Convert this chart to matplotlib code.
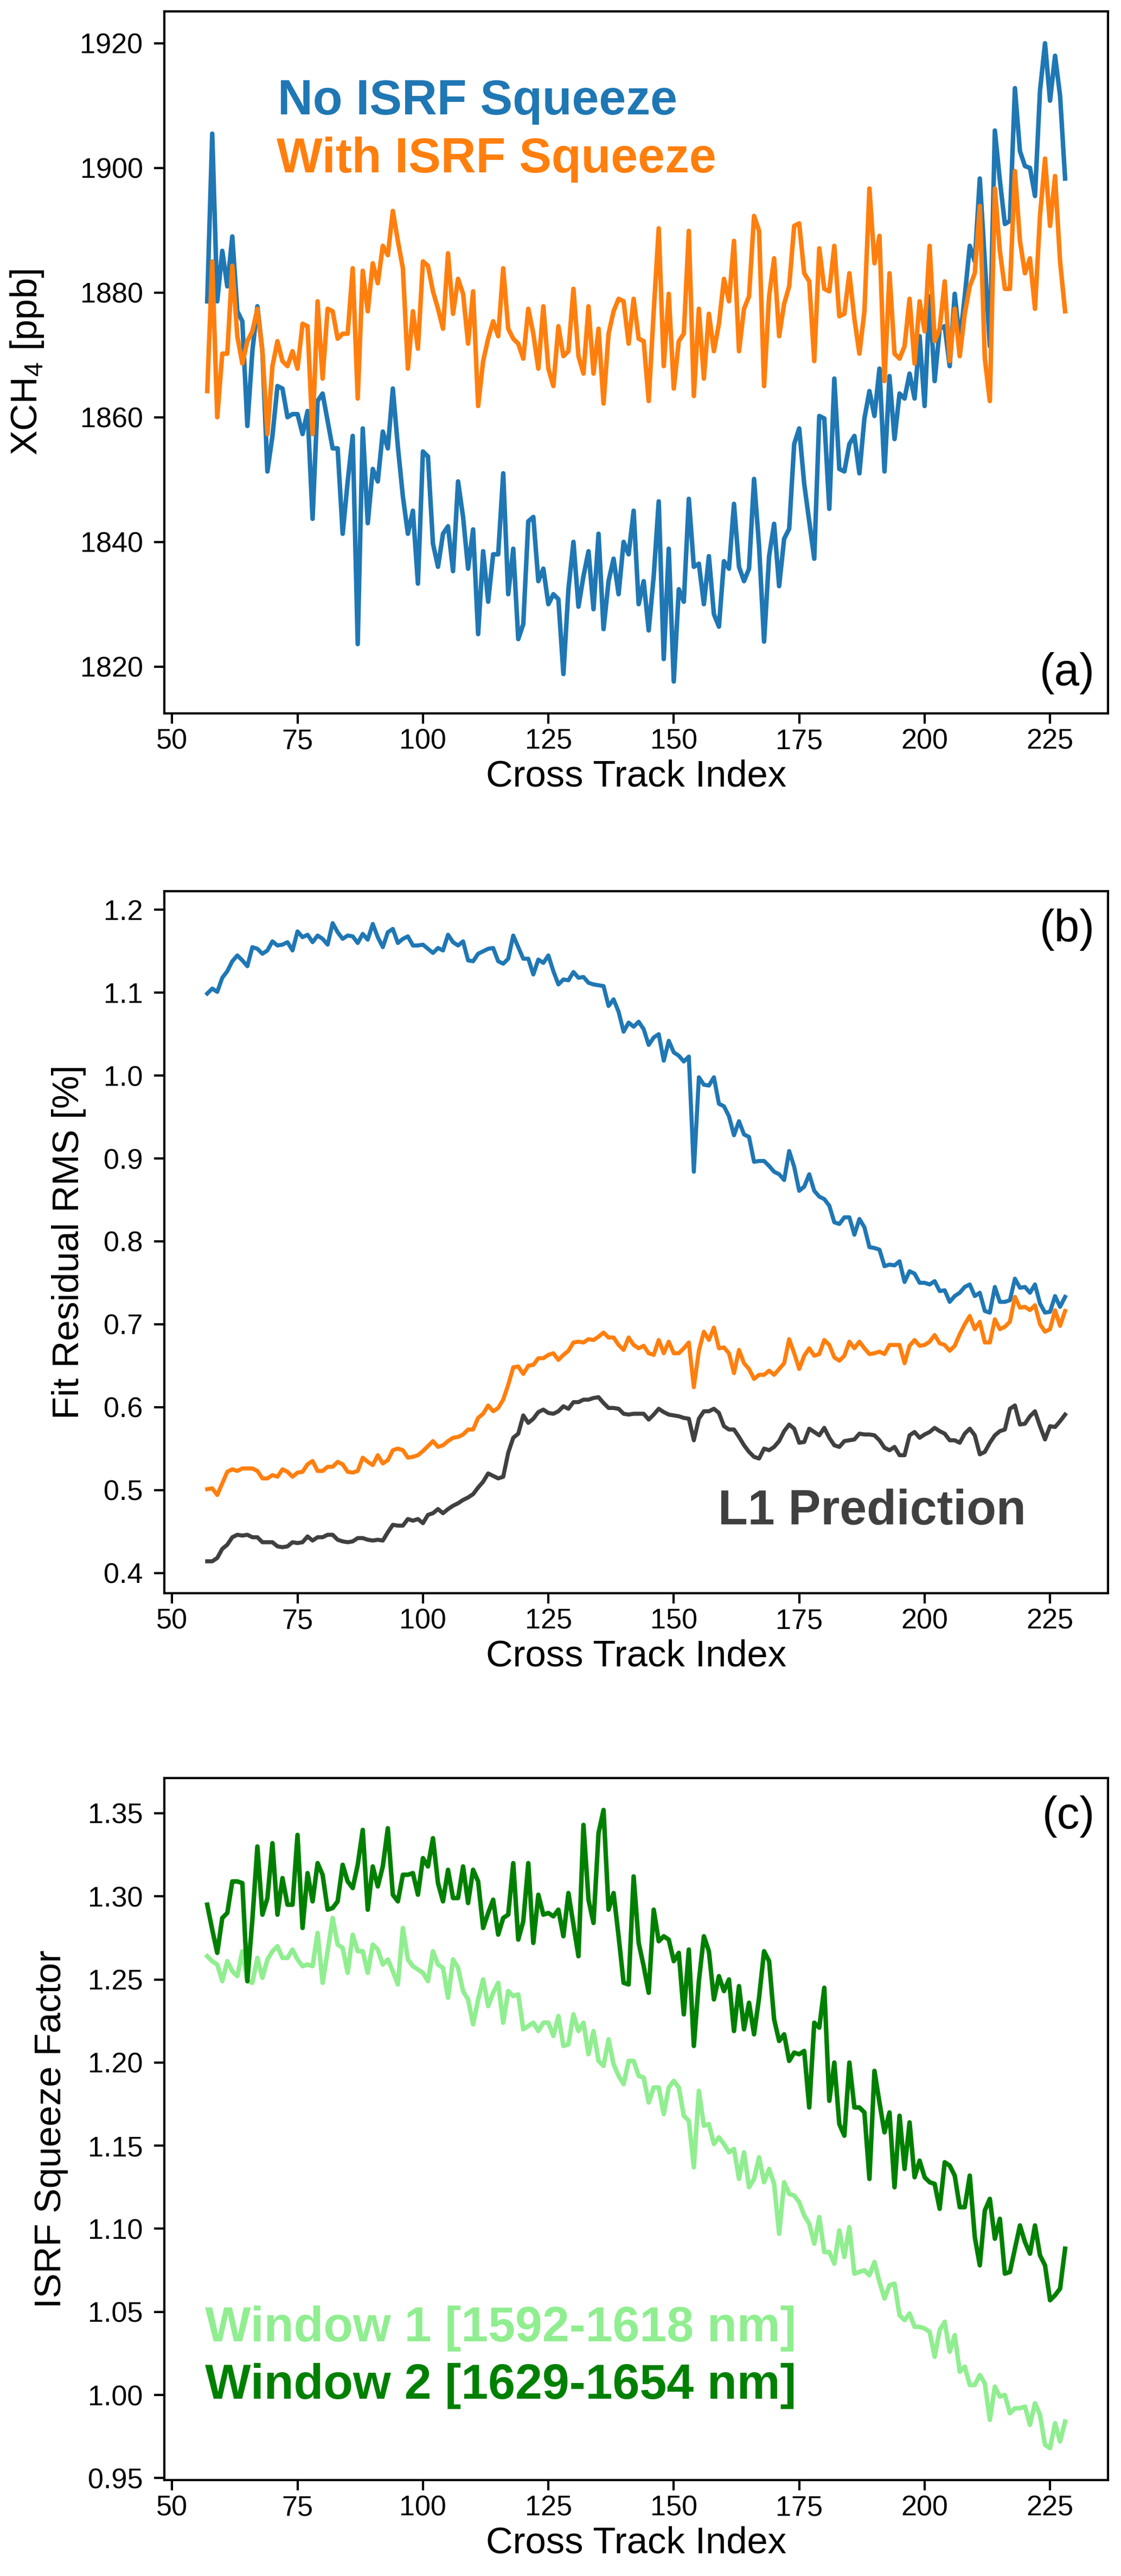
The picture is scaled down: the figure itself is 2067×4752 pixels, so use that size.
import matplotlib
matplotlib.use("Agg")
import matplotlib.pyplot as plt

plt.rcParams['font.family'] = ['Liberation Sans', 'DejaVu Sans']
plt.rcParams['mathtext.fontset'] = 'custom'
plt.rcParams['mathtext.rm'] = 'Liberation Sans'

cross_track = list(range(57, 229))
x_ticks = [50, 75, 100, 125, 150, 175, 200, 225]

# ---------------- panel (a): XCH4 ----------------
xch4_no_squeeze = [
    1878.6, 1905.5, 1878.6, 1886.7, 1881.0, 1889.0, 1877.0, 1875.4, 1858.6, 1870.6,
    1877.8, 1870.6, 1851.3, 1857.0, 1865.0, 1864.6, 1860.0, 1860.5, 1860.5, 1857.3,
    1861.0, 1843.7, 1862.6, 1863.8, 1859.4, 1855.0, 1855.0, 1841.3, 1849.7, 1857.0,
    1823.6, 1858.2, 1843.0, 1851.7, 1849.7, 1857.7, 1855.0, 1864.6, 1855.3, 1847.3,
    1841.3, 1845.0, 1833.3, 1854.5, 1853.7, 1839.7, 1836.0, 1841.3, 1842.5, 1835.3,
    1849.7, 1844.0, 1835.7, 1842.0, 1825.2, 1838.5, 1830.4, 1838.0, 1838.0, 1851.0,
    1831.6, 1838.9, 1824.4, 1826.8, 1843.3, 1844.0, 1833.7, 1835.7, 1830.0, 1831.6,
    1830.8, 1818.8, 1832.4, 1840.0, 1829.6, 1834.5, 1838.5, 1829.2, 1841.3, 1826.0,
    1833.7, 1837.3, 1831.6, 1840.0, 1838.0, 1845.0, 1830.0, 1833.7, 1825.8, 1834.5,
    1846.5, 1821.2, 1838.9, 1817.6, 1832.4, 1830.4, 1846.9, 1836.0, 1836.5, 1830.0,
    1837.7, 1828.4, 1826.4, 1836.9, 1835.7, 1846.1, 1836.0, 1833.7, 1835.7, 1850.1,
    1839.3, 1824.0, 1837.7, 1842.9, 1832.9, 1840.5, 1842.1, 1855.7, 1858.2, 1849.3,
    1843.3, 1837.3, 1860.2, 1859.8, 1845.3, 1866.2, 1851.7, 1851.3, 1855.7, 1857.0,
    1851.0, 1859.8, 1864.2, 1860.2, 1867.8, 1851.3, 1866.6, 1856.5, 1863.8, 1863.0,
    1867.0, 1863.0, 1873.0, 1861.8, 1879.4, 1865.8, 1874.2, 1874.6, 1868.2, 1879.8,
    1872.2, 1879.4, 1887.5, 1885.0, 1898.3, 1885.0, 1871.4, 1906.0, 1898.0, 1891.0,
    1891.5, 1912.8, 1902.7, 1900.3, 1900.0, 1895.5, 1912.4, 1920.0, 1910.8, 1918.0,
    1911.6, 1898.3,
]
xch4_with_squeeze = [
    1864.2, 1885.0, 1860.0, 1870.2, 1870.2, 1884.3, 1873.0, 1868.6, 1872.2, 1873.8,
    1877.4, 1870.6, 1857.3, 1868.2, 1872.2, 1869.0, 1868.2, 1870.6, 1867.8, 1875.0,
    1874.6, 1857.3, 1878.6, 1866.2, 1877.4, 1877.0, 1872.6, 1873.4, 1873.4, 1883.9,
    1863.0, 1883.5, 1877.0, 1884.7, 1881.5, 1887.5, 1886.0, 1893.1, 1888.3, 1883.9,
    1867.8, 1877.0, 1871.0, 1885.0, 1884.3, 1880.2, 1877.4, 1874.2, 1886.3, 1876.6,
    1882.2, 1879.8, 1871.8, 1880.2, 1861.8, 1869.0, 1872.6, 1875.4, 1873.0, 1883.9,
    1874.2, 1872.6, 1871.8, 1869.4, 1877.4, 1873.4, 1867.8, 1877.8, 1867.8, 1865.0,
    1874.6, 1869.8, 1870.6, 1880.6, 1869.8, 1867.0, 1877.8, 1867.0, 1874.2, 1862.2,
    1873.4, 1877.0, 1879.0, 1878.6, 1871.8, 1879.0, 1872.6, 1872.2, 1862.6, 1877.0,
    1890.3, 1868.2, 1879.8, 1864.6, 1872.2, 1873.4, 1889.9, 1863.4, 1877.4, 1866.2,
    1876.6, 1870.6, 1875.0, 1882.2, 1878.6, 1888.3, 1870.6, 1877.4, 1879.4, 1892.3,
    1889.9, 1865.0, 1879.4, 1885.5, 1873.0, 1878.2, 1881.0, 1890.7, 1891.1, 1883.1,
    1881.8, 1869.0, 1887.1, 1880.6, 1880.2, 1887.5, 1876.2, 1876.6, 1883.1, 1875.8,
    1870.2, 1877.0, 1896.7, 1884.7, 1889.1, 1865.8, 1883.1, 1870.2, 1869.4, 1871.4,
    1879.0, 1868.6, 1878.6, 1873.8, 1887.5, 1872.2, 1874.2, 1881.8, 1869.0, 1877.4,
    1869.8, 1876.6, 1881.0, 1883.1, 1893.9, 1869.4, 1862.6, 1896.7, 1886.7, 1880.6,
    1880.6, 1899.5, 1888.3, 1883.1, 1885.5, 1877.4, 1892.3, 1901.5, 1890.7, 1898.7,
    1885.0, 1877.0,
]
xch4_ticks = [1820, 1840, 1860, 1880, 1900, 1920]

# ---------------- panel (b): fit residual RMS ----------------
rms_no_squeeze = [
    1.099, 1.105, 1.101, 1.118, 1.126, 1.138, 1.145, 1.139, 1.132, 1.155,
    1.153, 1.147, 1.151, 1.162, 1.157, 1.158, 1.161, 1.151, 1.174, 1.167,
    1.170, 1.161, 1.169, 1.165, 1.158, 1.184, 1.173, 1.165, 1.169, 1.168,
    1.160, 1.171, 1.164, 1.183, 1.167, 1.155, 1.173, 1.177, 1.160, 1.165,
    1.168, 1.157, 1.157, 1.158, 1.153, 1.148, 1.154, 1.151, 1.170, 1.161,
    1.157, 1.162, 1.139, 1.138, 1.147, 1.150, 1.153, 1.154, 1.138, 1.135,
    1.141, 1.169, 1.155, 1.141, 1.141, 1.122, 1.140, 1.136, 1.145, 1.126,
    1.110, 1.116, 1.115, 1.125, 1.118, 1.119, 1.112, 1.110, 1.109, 1.108,
    1.084, 1.092, 1.077, 1.053, 1.064, 1.059, 1.065, 1.056, 1.037, 1.046,
    1.050, 1.018, 1.042, 1.028, 1.024, 1.017, 1.023, 0.884, 0.998, 0.989,
    0.988, 0.998, 0.966, 0.963, 0.951, 0.928, 0.945, 0.929, 0.926, 0.896,
    0.897, 0.897, 0.891, 0.884, 0.881, 0.874, 0.909, 0.890, 0.861, 0.866,
    0.881, 0.861, 0.854, 0.851, 0.843, 0.823, 0.821, 0.829, 0.829, 0.808,
    0.827, 0.817, 0.793, 0.792, 0.790, 0.770, 0.772, 0.771, 0.776, 0.751,
    0.764, 0.761, 0.750, 0.750, 0.748, 0.752, 0.740, 0.741, 0.727, 0.734,
    0.738, 0.745, 0.748, 0.734, 0.738, 0.716, 0.714, 0.745, 0.727, 0.727,
    0.729, 0.755, 0.744, 0.745, 0.738, 0.748, 0.725, 0.714, 0.715, 0.734,
    0.721, 0.733,
]
rms_with_squeeze = [
    0.501, 0.502, 0.494, 0.508, 0.522, 0.525, 0.523, 0.526, 0.526, 0.526,
    0.523, 0.514, 0.514, 0.518, 0.516, 0.525, 0.522, 0.516, 0.521, 0.522,
    0.531, 0.535, 0.523, 0.523, 0.528, 0.528, 0.534, 0.531, 0.522, 0.521,
    0.523, 0.539, 0.534, 0.530, 0.542, 0.532, 0.536, 0.548, 0.550, 0.548,
    0.539, 0.540, 0.542, 0.547, 0.553, 0.559, 0.552, 0.554, 0.559, 0.563,
    0.564, 0.567, 0.573, 0.573, 0.587, 0.592, 0.602, 0.595, 0.599, 0.609,
    0.627, 0.648, 0.649, 0.640, 0.650, 0.651, 0.659, 0.659, 0.663, 0.665,
    0.657, 0.663, 0.668, 0.678, 0.679, 0.678, 0.682, 0.681, 0.685, 0.690,
    0.684, 0.684, 0.675, 0.669, 0.684, 0.675, 0.671, 0.674, 0.665, 0.663,
    0.681, 0.665, 0.679, 0.665, 0.665, 0.671, 0.678, 0.624, 0.668, 0.691,
    0.681, 0.696, 0.671, 0.672, 0.665, 0.641, 0.669, 0.653, 0.646, 0.634,
    0.639, 0.639, 0.644, 0.639, 0.646, 0.653, 0.682, 0.665, 0.646, 0.662,
    0.671, 0.662, 0.664, 0.681, 0.675, 0.660, 0.656, 0.662, 0.679, 0.671,
    0.679, 0.671, 0.664, 0.665, 0.667, 0.664, 0.675, 0.675, 0.675, 0.653,
    0.674, 0.681, 0.674, 0.675, 0.679, 0.687, 0.677, 0.675, 0.668, 0.674,
    0.688, 0.700, 0.710, 0.694, 0.703, 0.678, 0.678, 0.706, 0.694, 0.697,
    0.703, 0.733, 0.720, 0.721, 0.717, 0.723, 0.700, 0.691, 0.694, 0.717,
    0.698, 0.716,
]
rms_l1_prediction = [
    0.414, 0.414, 0.418, 0.429, 0.434, 0.443, 0.446, 0.445, 0.446, 0.443,
    0.443, 0.437, 0.437, 0.437, 0.432, 0.431, 0.432, 0.437, 0.436, 0.437,
    0.444, 0.439, 0.443, 0.443, 0.446, 0.446, 0.440, 0.438, 0.437, 0.438,
    0.442, 0.442, 0.440, 0.439, 0.440, 0.439, 0.449, 0.458, 0.457, 0.457,
    0.465, 0.463, 0.465, 0.460, 0.470, 0.472, 0.477, 0.472, 0.477, 0.481,
    0.484, 0.488, 0.491, 0.495, 0.503, 0.510, 0.520, 0.517, 0.514, 0.516,
    0.545, 0.563, 0.568, 0.590, 0.581, 0.586, 0.594, 0.597, 0.593, 0.592,
    0.595, 0.601, 0.598, 0.606, 0.606, 0.609, 0.609, 0.611, 0.612, 0.605,
    0.599, 0.599, 0.598, 0.592, 0.591, 0.592, 0.592, 0.592, 0.585, 0.591,
    0.598, 0.594, 0.591, 0.590, 0.589, 0.587, 0.586, 0.560, 0.586, 0.595,
    0.595, 0.598, 0.593, 0.577, 0.573, 0.573, 0.564, 0.554, 0.546, 0.540,
    0.538, 0.550, 0.548, 0.552, 0.559, 0.571, 0.579, 0.574, 0.557, 0.558,
    0.574, 0.570, 0.566, 0.575, 0.563, 0.554, 0.552, 0.559, 0.560, 0.561,
    0.568, 0.567, 0.567, 0.566, 0.560, 0.551, 0.548, 0.552, 0.542, 0.542,
    0.566, 0.570, 0.563, 0.567, 0.570, 0.575, 0.571, 0.568, 0.560, 0.560,
    0.557, 0.568, 0.574, 0.566, 0.543, 0.546, 0.557, 0.566, 0.571, 0.573,
    0.598, 0.602, 0.579, 0.580, 0.589, 0.595, 0.577, 0.561, 0.577, 0.576,
    0.583, 0.591,
]
rms_ticks = [0.4, 0.5, 0.6, 0.7, 0.8, 0.9, 1.0, 1.1, 1.2]

# ---------------- panel (c): ISRF squeeze factor ----------------
squeeze_window1 = [
    1.264, 1.261, 1.259, 1.249, 1.261, 1.255, 1.252, 1.267, 1.249, 1.248,
    1.263, 1.251, 1.262, 1.267, 1.270, 1.263, 1.263, 1.268, 1.262, 1.258,
    1.259, 1.258, 1.278, 1.248, 1.267, 1.287, 1.271, 1.269, 1.254, 1.277,
    1.267, 1.267, 1.254, 1.271, 1.268, 1.259, 1.262, 1.255, 1.247, 1.281,
    1.262, 1.258, 1.256, 1.254, 1.249, 1.267, 1.259, 1.257, 1.239, 1.262,
    1.257, 1.243, 1.238, 1.223, 1.238, 1.250, 1.234, 1.242, 1.248, 1.224,
    1.243, 1.240, 1.241, 1.220, 1.222, 1.224, 1.219, 1.224, 1.224, 1.216,
    1.228, 1.210, 1.211, 1.229, 1.219, 1.224, 1.205, 1.219, 1.201, 1.198,
    1.214, 1.199, 1.192, 1.187, 1.201, 1.201, 1.192, 1.191, 1.176, 1.185,
    1.185, 1.169, 1.185, 1.189, 1.185, 1.168, 1.165, 1.137, 1.183, 1.162,
    1.163, 1.151, 1.155, 1.151, 1.146, 1.148, 1.130, 1.146, 1.125, 1.130,
    1.143, 1.128, 1.136, 1.127, 1.097, 1.128, 1.121, 1.120, 1.116, 1.108,
    1.103, 1.091, 1.107, 1.086, 1.086, 1.079, 1.099, 1.083, 1.101, 1.073,
    1.074, 1.075, 1.072, 1.080, 1.068, 1.058, 1.066, 1.067, 1.048, 1.045,
    1.049, 1.041, 1.041, 1.040, 1.038, 1.023, 1.039, 1.044, 1.026, 1.036,
    1.014, 1.017, 1.006, 1.006, 1.012, 1.007, 0.985, 1.005, 0.999, 1.000,
    0.989, 0.992, 0.992, 0.993, 0.982, 0.995, 0.988, 0.970, 0.968, 0.983,
    0.972, 0.984,
]
squeeze_window2 = [
    1.295, 1.280, 1.266, 1.287, 1.290, 1.309, 1.309, 1.308, 1.249, 1.286,
    1.330, 1.289, 1.299, 1.332, 1.289, 1.311, 1.295, 1.295, 1.337, 1.281,
    1.314, 1.297, 1.320, 1.313, 1.292, 1.293, 1.297, 1.319, 1.309, 1.305,
    1.319, 1.340, 1.292, 1.318, 1.306, 1.318, 1.341, 1.301, 1.297, 1.313,
    1.313, 1.314, 1.301, 1.323, 1.318, 1.335, 1.308, 1.297, 1.316, 1.299,
    1.299, 1.318, 1.296, 1.316, 1.309, 1.281, 1.290, 1.298, 1.277, 1.287,
    1.289, 1.320, 1.274, 1.285, 1.320, 1.272, 1.301, 1.289, 1.290, 1.288,
    1.292, 1.276, 1.302, 1.283, 1.264, 1.343, 1.298, 1.284, 1.338, 1.352,
    1.292, 1.302, 1.276, 1.248, 1.247, 1.312, 1.272, 1.258, 1.242, 1.292,
    1.273, 1.276, 1.274, 1.261, 1.266, 1.229, 1.268, 1.210, 1.249, 1.276,
    1.267, 1.238, 1.252, 1.243, 1.250, 1.219, 1.246, 1.220, 1.236, 1.217,
    1.239, 1.267, 1.261, 1.226, 1.213, 1.217, 1.201, 1.206, 1.205, 1.207,
    1.173, 1.224, 1.221, 1.245, 1.177, 1.200, 1.163, 1.156, 1.200, 1.173,
    1.173, 1.170, 1.130, 1.195, 1.176, 1.158, 1.170, 1.125, 1.168, 1.136,
    1.164, 1.131, 1.141, 1.131, 1.128, 1.127, 1.112, 1.140, 1.138, 1.132,
    1.113, 1.113, 1.132, 1.095, 1.078, 1.111, 1.118, 1.094, 1.106, 1.073,
    1.074, 1.088, 1.102, 1.092, 1.085, 1.102, 1.084, 1.078, 1.057, 1.060,
    1.064, 1.088,
]
squeeze_ticks = [0.95, 1.00, 1.05, 1.10, 1.15, 1.20, 1.25, 1.30, 1.35]

# ---------------- figure ----------------
W, H = 2067, 4752
fig = plt.figure(figsize=(W / 300, H / 300), dpi=300)

left = 303 / W
width = (2043 - 303) / W
ax_h = 1295 / H
tops = [21, 1644, 3280]
axes = [fig.add_axes([left, 1 - (t + 1295) / H, width, ax_h]) for t in tops]

TICK_FS = 12.5
LABEL_FS = 16.5
ANN_FS = 21.5
PANEL_FS = 20

for ax in axes:
    for sp in ax.spines.values():
        sp.set_linewidth(1.0)
    ax.tick_params(direction='out', length=4.5, width=1.0, labelsize=TICK_FS)
    ax.tick_params(axis='x', pad=2)
    ax.tick_params(axis='y', pad=5)
    ax.set_xticks(x_ticks)
    ax.set_xlabel('Cross Track Index', fontsize=LABEL_FS, labelpad=2)

# (a)
ax = axes[0]
ax.plot(cross_track, xch4_no_squeeze, color='#1f77b4', lw=2.0)
ax.plot(cross_track, xch4_with_squeeze, color='#ff7f0e', lw=2.0)
ax.set_yticks(xch4_ticks)
ax.set_ylabel(r'XCH$_\mathregular{4}$ [ppb]', fontsize=LABEL_FS)
ax.yaxis.set_label_coords(-0.126, 0.5)
ax.text(0.120, 0.853, 'No ISRF Squeeze', transform=ax.transAxes, color='#1f77b4',
        fontsize=ANN_FS, fontweight='bold', ha='left', va='baseline')
ax.text(0.119, 0.771, 'With ISRF Squeeze', transform=ax.transAxes, color='#ff7f0e',
        fontsize=ANN_FS, fontweight='bold', ha='left', va='baseline')
ax.text(0.986, 0.027, '(a)', transform=ax.transAxes, fontsize=PANEL_FS,
        ha='right', va='bottom')

# (b)
ax = axes[1]
ax.plot(cross_track, rms_no_squeeze, color='#1f77b4', lw=1.8)
ax.plot(cross_track, rms_with_squeeze, color='#ff7f0e', lw=1.8)
ax.plot(cross_track, rms_l1_prediction, color='#404040', lw=1.8)
ax.set_yticks(rms_ticks)
ax.set_yticklabels([f'{v:.1f}' for v in rms_ticks])
ax.set_ylabel('Fit Residual RMS [%]', fontsize=LABEL_FS)
ax.yaxis.set_label_coords(-0.083, 0.5)
ax.text(0.587, 0.098, 'L1 Prediction', transform=ax.transAxes, color='#404040',
        fontsize=ANN_FS, fontweight='bold', ha='left', va='baseline')
ax.text(0.986, 0.975, '(b)', transform=ax.transAxes, fontsize=PANEL_FS,
        ha='right', va='top')

# (c)
ax = axes[2]
ax.plot(cross_track, squeeze_window1, color='#90ee90', lw=2.0)
ax.plot(cross_track, squeeze_window2, color='#008000', lw=2.0)
ax.set_yticks(squeeze_ticks)
ax.set_yticklabels([f'{v:.2f}' for v in squeeze_ticks])
ax.set_ylabel('ISRF Squeeze Factor', fontsize=LABEL_FS)
ax.yaxis.set_label_coords(-0.102, 0.5)
ax.text(0.043, 0.198, 'Window 1 [1592-1618 nm]', transform=ax.transAxes, color='#90ee90',
        fontsize=ANN_FS, fontweight='bold', ha='left', va='baseline')
ax.text(0.043, 0.116, 'Window 2 [1629-1654 nm]', transform=ax.transAxes, color='#008000',
        fontsize=ANN_FS, fontweight='bold', ha='left', va='baseline')
ax.text(0.986, 0.975, '(c)', transform=ax.transAxes, fontsize=PANEL_FS,
        ha='right', va='top')

fig.savefig('out.png', dpi=300)
